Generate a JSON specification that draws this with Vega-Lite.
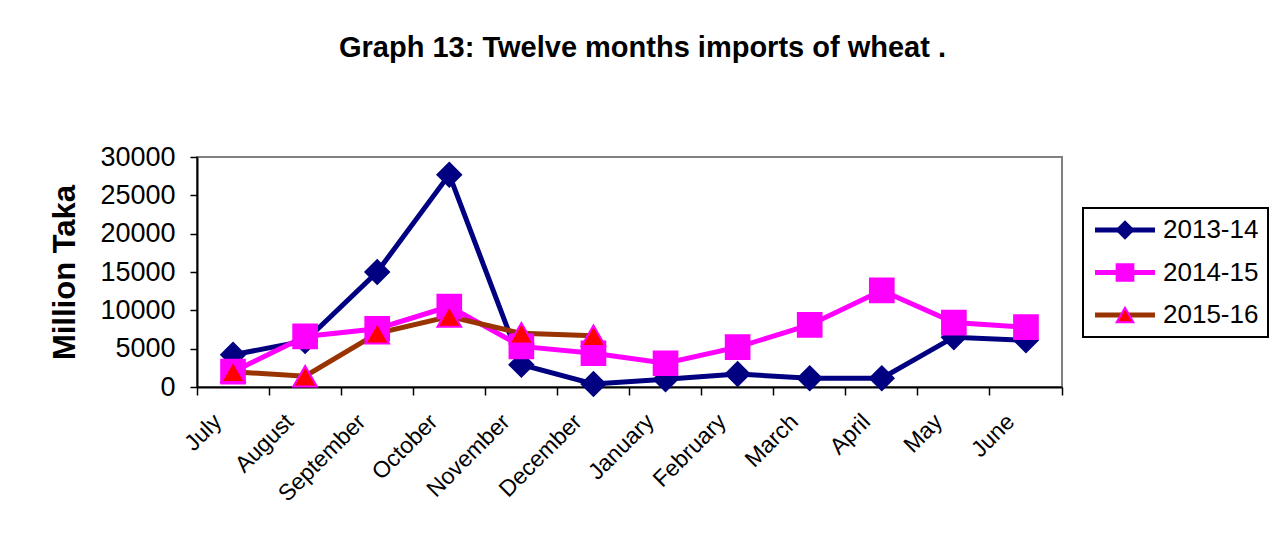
{
  "$schema": "https://vega.github.io/schema/vega-lite/v6.json",
  "width": 865,
  "height": 230,
  "autosize": {"type": "none"},
  "padding": {"left": 197, "top": 157, "right": 215, "bottom": 155},
  "background": "white",
  "title": {
    "text": "Graph 13: Twelve months imports of wheat .",
    "font": "Liberation Sans",
    "fontSize": 29,
    "fontWeight": "bold",
    "color": "black",
    "anchor": "middle",
    "dx": 13,
    "offset": 80
  },
  "config": {
    "font": "Liberation Sans",
    "view": {"stroke": "#808080", "strokeWidth": 2},
    "axis": {"grid": false, "zindex": 1},
    "legend": {"strokeWidth": 2}
  },
  "data": {
    "values": [
      {"Month": "July", "Year": "2013-14", "Value": 4200},
      {"Month": "August", "Year": "2013-14", "Value": 6000},
      {"Month": "September", "Year": "2013-14", "Value": 15000},
      {"Month": "October", "Year": "2013-14", "Value": 27700},
      {"Month": "November", "Year": "2013-14", "Value": 2900},
      {"Month": "December", "Year": "2013-14", "Value": 400},
      {"Month": "January", "Year": "2013-14", "Value": 1000},
      {"Month": "February", "Year": "2013-14", "Value": 1700},
      {"Month": "March", "Year": "2013-14", "Value": 1150},
      {"Month": "April", "Year": "2013-14", "Value": 1150},
      {"Month": "May", "Year": "2013-14", "Value": 6500},
      {"Month": "June", "Year": "2013-14", "Value": 6100},
      {"Month": "July", "Year": "2014-15", "Value": 2000},
      {"Month": "August", "Year": "2014-15", "Value": 6600},
      {"Month": "September", "Year": "2014-15", "Value": 7600},
      {"Month": "October", "Year": "2014-15", "Value": 10500},
      {"Month": "November", "Year": "2014-15", "Value": 5300},
      {"Month": "December", "Year": "2014-15", "Value": 4400},
      {"Month": "January", "Year": "2014-15", "Value": 3100},
      {"Month": "February", "Year": "2014-15", "Value": 5200},
      {"Month": "March", "Year": "2014-15", "Value": 8100},
      {"Month": "April", "Year": "2014-15", "Value": 12600},
      {"Month": "May", "Year": "2014-15", "Value": 8400},
      {"Month": "June", "Year": "2014-15", "Value": 7800},
      {"Month": "July", "Year": "2015-16", "Value": 2000},
      {"Month": "August", "Year": "2015-16", "Value": 1400},
      {"Month": "September", "Year": "2015-16", "Value": 7000},
      {"Month": "October", "Year": "2015-16", "Value": 9200},
      {"Month": "November", "Year": "2015-16", "Value": 7000},
      {"Month": "December", "Year": "2015-16", "Value": 6700}
    ]
  },
  "encoding": {
    "x": {
      "field": "Month",
      "type": "nominal",
      "sort": ["July", "August", "September", "October", "November", "December", "January", "February", "March", "April", "May", "June"],
      "scale": {"type": "band", "paddingInner": 0, "paddingOuter": 0},
      "axis": {
        "title": null,
        "labelAngle": -45,
        "labelFontSize": 23,
        "labelColor": "black",
        "labelPadding": 15,
        "bandPosition": 1,
        "tickExtra": true,
        "labelOffset": -23,
        "tickSize": 8,
        "tickColor": "black",
        "tickWidth": 1.5,
        "domainColor": "black",
        "domainWidth": 2
      }
    },
    "y": {
      "field": "Value",
      "type": "quantitative",
      "scale": {"domain": [0, 30000], "nice": false},
      "axis": {
        "title": "Million Taka",
        "titleFontSize": 31,
        "titleFontWeight": "bold",
        "titleColor": "black",
        "titlePadding": 18,
        "values": [0, 5000, 10000, 15000, 20000, 25000, 30000],
        "format": "d",
        "labelFontSize": 27,
        "labelColor": "black",
        "labelPadding": 15,
        "tickSize": 7,
        "tickColor": "black",
        "tickWidth": 1.5,
        "domainColor": "black",
        "domainWidth": 2
      }
    }
  },
  "layer": [
    {
      "mark": {"type": "line", "strokeWidth": 5},
      "encoding": {
        "color": {
          "field": "Year",
          "type": "nominal",
          "scale": {"domain": ["2013-14", "2014-15", "2015-16"], "range": ["#000080", "#FF00FF", "#993300"]},
          "legend": {
            "title": null,
            "orient": "none",
            "legendX": 886,
            "legendY": 51,
            "padding": 9,
            "strokeColor": "black",
            "fillColor": "white",
            "symbolType": "M-3,0H3",
            "symbolSize": 400,
            "symbolStrokeWidth": 5,
            "symbolOffset": 20,
            "labelOffset": 25,
            "labelFontSize": 26,
            "labelColor": "black",
            "rowPadding": 16.5
          }
        }
      }
    },
    {
      "mark": {"type": "point", "filled": true, "size": 560, "strokeWidth": 2, "opacity": 1},
      "encoding": {
        "shape": {
          "field": "Year",
          "type": "nominal",
          "scale": {"range": ["diamond", "square", "triangle-up"]},
          "legend": {
            "title": null,
            "orient": "none",
            "legendX": 886,
            "legendY": 51,
            "padding": 9,
            "symbolSize": 280,
            "symbolStrokeWidth": 2,
            "symbolOffset": 20,
            "labelOffset": 25,
            "labelFontSize": 26,
            "labelColor": "transparent",
            "rowPadding": 16.5
          }
        },
        "fill": {
          "field": "Year",
          "type": "nominal",
          "scale": {"range": ["#000080", "#FF00FF", "#FF0000"]}
        },
        "stroke": {
          "field": "Year",
          "type": "nominal",
          "scale": {"range": ["#000080", "#FF00FF", "#FF00FF"]}
        }
      }
    }
  ]
}
